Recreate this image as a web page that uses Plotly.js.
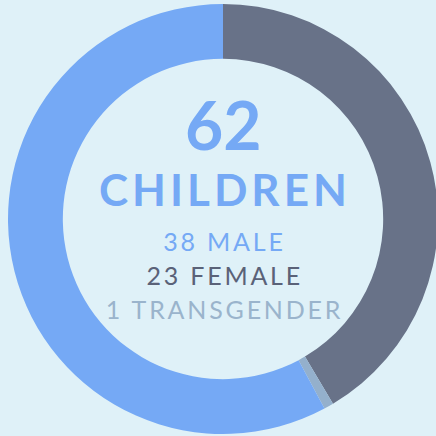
<!DOCTYPE html>
<html>
<head>
<meta charset="utf-8">
<script src="https://cdn.plot.ly/plotly-3.0.1.min.js"></script>
<style>
html,body{margin:0;padding:0;background:#dff1f8;overflow:hidden;width:436px;height:436px;}
#chart{width:446px;height:436px;}
</style>
</head>
<body>
<div id="chart"></div>
<script>
// Arc sizes (the ring is not exactly proportional to the labels)
const categories = ["Female", "Transgender", "Male"];
const arcValues = [25.7, 0.45, 35.85];
const colors = ["#687288", "#94b0cc", "#75a9f5"];
// Texts shown in the centre
const totalLabel = "62";
const unitLabel = "CHILDREN";
const centerLines = ["38 MALE", "23 FEMALE", "1 TRANSGENDER"];

const W = 446, H = 436;
const data = [{
  type: "pie",
  labels: categories,
  values: arcValues,
  hole: 0.745,
  sort: false,
  direction: "clockwise",
  rotation: 0,
  textinfo: "none",
  hoverinfo: "none",
  marker: {colors: colors, line: {width: 0}},
  domain: {x: [8/W, 438/W], y: [2/H, 432/H]},
  showlegend: false
}];

const fam = "Lato, 'Open Sans', sans-serif";
function ann(text, yTop, size, color, weight, ls) {
  return {text: text, x: 0.5, y: 1 - yTop/H, xref: "paper", yref: "paper",
          xanchor: "center", yanchor: "middle", showarrow: false, xshift: ls/2,
          font: {family: fam, size: size, color: color, weight: weight}};
}
const spacing = [0, 4, 2.8, 2.8, 2.8];
const layout = {
  width: W, height: H,
  margin: {l:0, r:0, t:0, b:0},
  paper_bgcolor: "#dff1f8",
  plot_bgcolor: "#dff1f8",
  annotations: [
    ann(totalLabel, 124, 66, "#75a9f5", 700, spacing[0]),
    ann(unitLabel, 189, 44, "#75a9f5", 700, spacing[1]),
    ann(centerLines[0], 241, 25, "#75a9f5", 400, spacing[2]),
    ann(centerLines[1], 275, 25, "#5a6278", 400, spacing[3]),
    ann(centerLines[2], 309, 25, "#9ab4cc", 400, spacing[4])
  ]
};
Plotly.newPlot("chart", data, layout, {displayModeBar:false, staticPlot:true}).then(function(){
  const texts = document.querySelectorAll(".annotation-text");
  texts.forEach(function(t, i){ t.style.letterSpacing = spacing[i] + "px"; });
});
</script>
</body>
</html>
